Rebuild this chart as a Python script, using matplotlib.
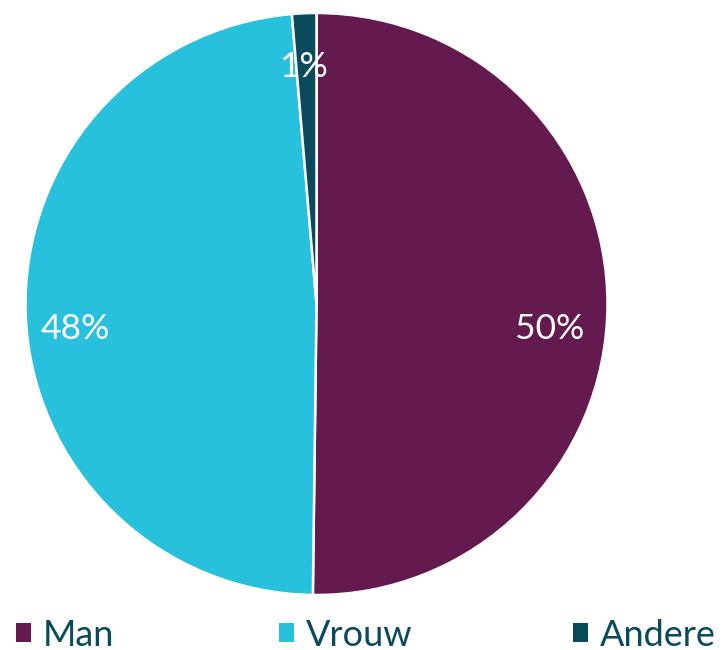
import matplotlib
matplotlib.use("Agg")
import matplotlib.pyplot as plt
from matplotlib.patches import Patch

categories = ["Man", "Vrouw", "Andere"]
values = [50.2, 48.45, 1.35]
pct_labels = ["50%", "48%", "1%"]
colors = ["#641a4f", "#27c0dd", "#0a4a5c"]
text_color = "#0a4a5c"

plt.rcParams['font.family'] = ['Lato', 'DejaVu Sans']

W, H = 725, 650
fig = plt.figure(figsize=(W / 100, H / 100), dpi=100)
cx, cy, r = 316.5, 304, 291
ax = fig.add_axes([(cx - r) / W, (H - cy - r) / H, 2 * r / W, 2 * r / H])
wedges, _ = ax.pie(values, colors=colors, startangle=90, counterclock=False,
                   wedgeprops=dict(edgecolor="white", linewidth=1.8))
ax.set_xlim(-1, 1)
ax.set_ylim(-1, 1)
ax.set_aspect("auto")
ax.axis("off")

label_pos = [(0.8, -0.085), (-0.83, -0.085), (-0.046, 0.815)]
for (x, y), t in zip(label_pos, pct_labels):
    ax.text(x, y, t, color="white", fontsize=25.5, ha="center", va="center")

legend_x = [16, 279, 573]
for cat, col, x in zip(categories, colors, legend_x):
    fig.legend(handles=[Patch(facecolor=col, edgecolor="none")], labels=[cat],
               loc="center left", bbox_to_anchor=(x / W, 1 - 635 / H),
               frameon=False, fontsize=26, labelcolor=text_color,
               handlelength=0.42, handleheight=0.42, handletextpad=0.33,
               borderpad=0, borderaxespad=0)

fig.savefig("out.png", dpi=100)
